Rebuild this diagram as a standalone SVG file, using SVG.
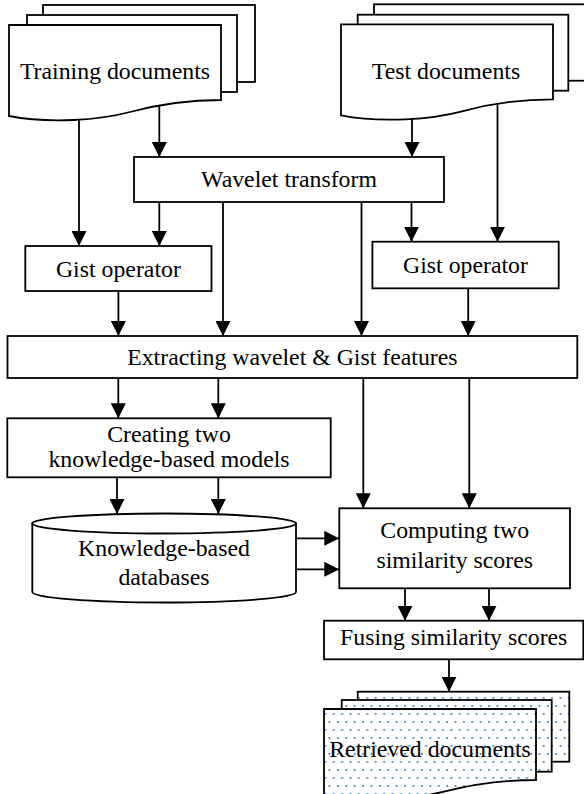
<svg xmlns="http://www.w3.org/2000/svg" width="584" height="794" viewBox="0 0 584 794">
<style>
.s{fill:#fff;stroke:#000;stroke-width:1.8}
.d{fill:url(#dots);stroke:#000;stroke-width:1.8}
.t{font-family:"Liberation Serif","Times New Roman",serif;font-size:23.8px;fill:#000;text-anchor:middle}
.c path{fill:none;stroke:#000;stroke-width:1.8;marker-end:url(#ah)}
</style>
<defs>
<marker id="ah" markerUnits="userSpaceOnUse" markerWidth="15" markerHeight="15" refX="15" refY="7.5" orient="auto">
<path d="M0,0 L15,7.5 L0,15 Z" fill="#000"/>
</marker>
<pattern id="dots" patternUnits="userSpaceOnUse" width="8.4" height="16" x="0" y="0">
<rect width="8.4" height="16" fill="#fff"/>
<rect x="1" y="1" width="1.8" height="1.8" fill="#4f81bd"/>
<rect x="5.2" y="9" width="1.8" height="1.8" fill="#4f81bd"/>
</pattern>
</defs>

<g id="training">
<rect class="s" x="43" y="5" width="212" height="77"/>
<rect class="s" x="27" y="15" width="210" height="77"/>
<path class="s" d="M9,25 H221 V100 C190,100 160,104 130,112 C100,120 50,124 9,116 Z"/>
<text class="t" x="115" y="79">Training documents</text>
</g>

<g id="test">
<rect class="s" x="374" y="4.3" width="226" height="76.4"/>
<rect class="s" x="357.7" y="14.7" width="210.6" height="76"/>
<path class="s" transform="translate(332,-0.7)" d="M9,25 H221 V100 C190,100 160,104 130,112 C100,120 50,124 9,116 Z"/>
<text class="t" x="446" y="79">Test documents</text>
</g>

<g id="wavelet">
<rect class="s" x="134" y="157" width="310" height="45"/>
<text class="t" x="289" y="187">Wavelet transform</text>
</g>

<g id="gist1">
<rect class="s" x="25.3" y="246" width="186.2" height="45"/>
<text class="t" x="118.4" y="277">Gist operator</text>
</g>

<g id="gist2">
<rect class="s" x="372.4" y="241.7" width="186.3" height="46.6"/>
<text class="t" x="465.5" y="273.3">Gist operator</text>
</g>

<g id="extract">
<rect class="s" x="7.5" y="336" width="569.8" height="42"/>
<text class="t" x="292.4" y="365">Extracting wavelet &amp; Gist features</text>
</g>

<g id="creating">
<rect class="s" x="7.3" y="418.3" width="323.4" height="59"/>
<text class="t" x="169" y="442">Creating two</text>
<text class="t" x="169" y="467.3">knowledge-based models</text>
</g>

<g id="database">
<path class="s" d="M32.3,523.5 V592 A131.85,10.5 0 0 0 296,592 V523.5 Z"/>
<ellipse class="s" cx="164.15" cy="523.5" rx="131.85" ry="10"/>
<text class="t" x="164" y="556">Knowledge-based</text>
<text class="t" x="164" y="585">databases</text>
</g>

<g id="computing">
<rect class="s" x="339.3" y="508.3" width="230.7" height="80"/>
<text class="t" x="454.7" y="538.3">Computing two</text>
<text class="t" x="454.7" y="568.3">similarity scores</text>
</g>

<g id="fusing">
<rect class="s" x="324" y="620.7" width="259.3" height="38.6"/>
<text class="t" x="453.7" y="645">Fusing similarity scores</text>
</g>

<g id="retrieved">
<rect class="d" x="357.7" y="691.7" width="211.6" height="70"/>
<rect class="d" x="341.7" y="700" width="210" height="71.7"/>
<path class="d" d="M324,709 H536 V780 C505,780 475,783.8 445,791.4 C415,799 365,802.9 324,795.2 Z"/>
<text class="t" x="430" y="756.7">Retrieved documents</text>
</g>

<g id="connectors" class="c">
<path d="M79,120 V246"/>
<path d="M159.3,105.6 V157"/>
<path d="M412,118.5 V157"/>
<path d="M497.5,103 V241.7"/>
<path d="M159.3,202 V246"/>
<path d="M223,202 V336"/>
<path d="M361.5,202 V336"/>
<path d="M411.5,202 V241.7"/>
<path d="M118.4,291 V336"/>
<path d="M468.2,288.3 V336"/>
<path d="M118.3,378 V418.3"/>
<path d="M218.3,378 V418.3"/>
<path d="M117,477.3 V514"/>
<path d="M218.3,477.3 V514"/>
<path d="M363.3,378 V508.3"/>
<path d="M469.3,378 V508.3"/>
<path d="M296,538.3 H339.3"/>
<path d="M296,569.3 H339.3"/>
<path d="M405,588.3 V620.7"/>
<path d="M489,588.3 V620.7"/>
<path d="M449,659.3 V691.7"/>
</g>
</svg>
